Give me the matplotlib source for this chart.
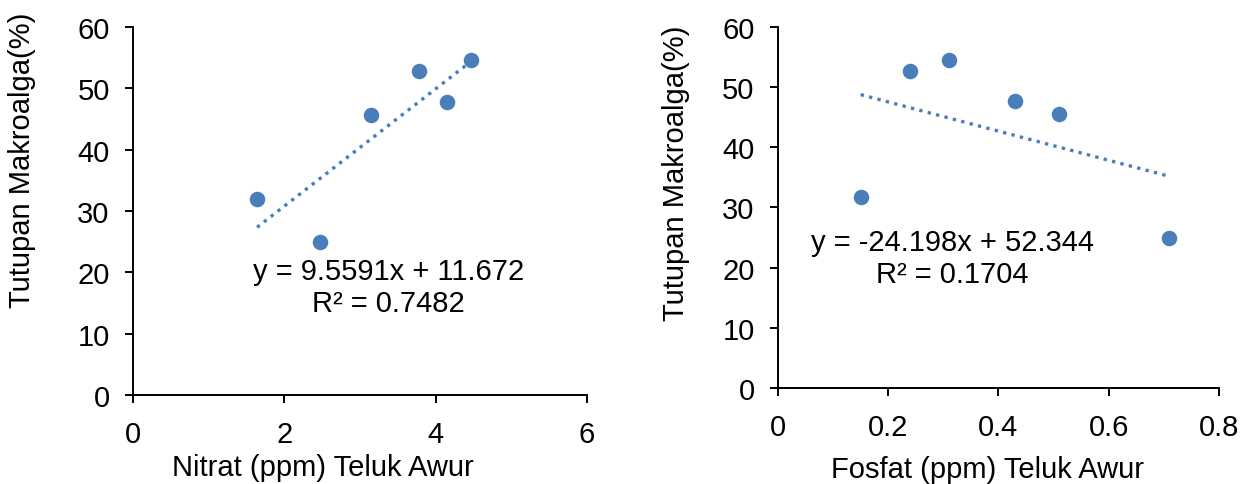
import matplotlib
matplotlib.use('Agg')
import matplotlib.pyplot as plt
import numpy as np

plt.rcParams['font.family'] = ['Liberation Sans', 'DejaVu Sans']

# data
nitrat = [1.64, 2.47, 3.15, 3.78, 4.15, 4.47]
tutupan_n = [31.9, 25.0, 45.6, 52.8, 47.8, 54.6]
fosfat = [0.15, 0.24, 0.31, 0.43, 0.51, 0.71]
tutupan_f = [31.8, 52.7, 54.5, 47.7, 45.5, 25.0]

fit_n = (9.5591, 11.672)
fit_f = (-24.198, 52.344)
eq_n = 'y = 9.5591x + 11.672\nR² = 0.7482'
eq_f = 'y = -24.198x + 52.344\nR² = 0.1704'

blue = '#4A7EBB'
fs = 21

fig = plt.figure(figsize=(12.4, 4.85), dpi=100)
ax1 = fig.add_axes([0.1073, 0.1835, 0.366, 0.7588])
ax2 = fig.add_axes([0.6274, 0.1973, 0.3556, 0.7458])


def panel(ax, x, y, fit, eq, xlim, xticks, xlabel, eqpos, xlab_pos, ylab_pos):
    ax.scatter(x, y, s=125, color=blue, zorder=3, linewidths=0)
    xs = np.array([min(x), max(x)])
    ax.plot(xs, fit[0] * xs + fit[1], linestyle=(0, (1, 1.6)), color=blue, lw=2.4)
    ax.set_xlim(*xlim)
    ax.set_ylim(0, 60)
    ax.set_xticks(xticks)
    ax.set_yticks(range(0, 61, 10))
    ax.set_xticklabels([f'{t:g}' for t in xticks])
    for s in ['top', 'right']:
        ax.spines[s].set_visible(False)
    for s in ['left', 'bottom']:
        ax.spines[s].set_linewidth(1.4)
    ax.tick_params(labelsize=fs, length=5.8, width=1.4, direction='out')
    ax.tick_params(axis='x', pad=12)
    ax.tick_params(axis='y', pad=11)
    ax.set_xlabel(xlabel, fontsize=fs)
    ax.set_ylabel('Tutupan Makroalga(%)', fontsize=fs)
    ax.xaxis.set_label_coords(*xlab_pos)
    ax.xaxis.label.set_va('center')
    ax.yaxis.set_label_coords(*ylab_pos)
    ax.yaxis.label.set_va('center')
    ax.text(eqpos[0], eqpos[1], eq, fontsize=fs, ha='center', va='center',
            multialignment='center', linespacing=1.15)


panel(ax1, nitrat, tutupan_n, fit_n, eq_n, (0, 6), [0, 2, 4, 6],
      'Nitrat (ppm) Teluk Awur', (3.38, 17.6), (0.418, -0.196), (-0.2445, 0.641))
panel(ax2, fosfat, tutupan_f, fit_f, eq_f, (0, 0.8), [0, 0.2, 0.4, 0.6, 0.8],
      'Fosfat (ppm) Teluk Awur', (0.316, 21.6), (0.476, -0.223), (-0.231, 0.598))

fig.savefig('out.png', dpi=100)
